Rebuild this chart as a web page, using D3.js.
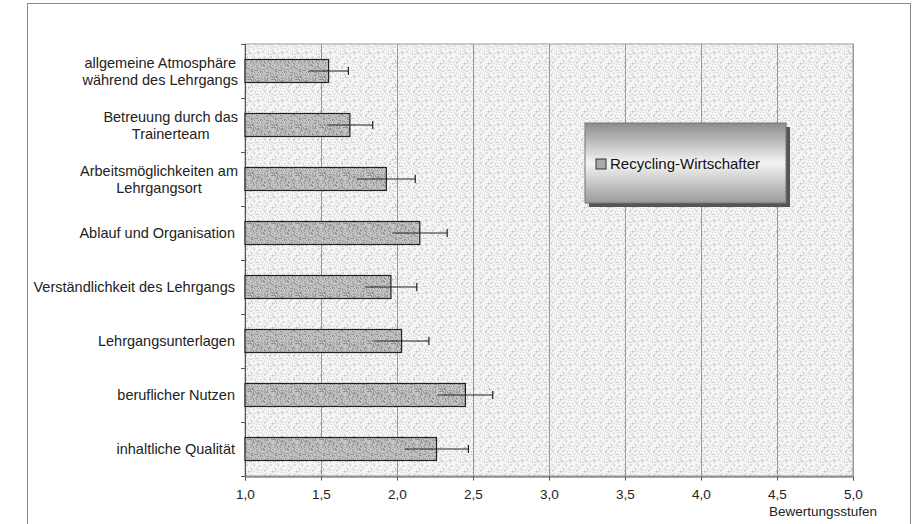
<!DOCTYPE html>
<html><head><meta charset="utf-8">
<script src="https://cdn.jsdelivr.net/npm/d3@7"></script>
<style>body{margin:0;background:#fff}svg{display:block;font-family:Arial,"Liberation Sans",sans-serif}</style>
</head><body><svg id="c" width="923" height="524"></svg>
<script>
const categories = [
  ["allgemeine Atmosphäre","während des Lehrgangs"],
  ["Betreuung durch das","Trainerteam"],
  ["Arbeitsmöglichkeiten am","Lehrgangsort"],
  ["Ablauf und Organisation"],
  ["Verständlichkeit des Lehrgangs"],
  ["Lehrgangsunterlagen"],
  ["beruflicher Nutzen"],
  ["inhaltliche Qualität"]
];
const values = [1.55, 1.69, 1.93, 2.15, 1.96, 2.03, 2.45, 2.26];
const errors = [0.13, 0.15, 0.19, 0.18, 0.17, 0.18, 0.18, 0.21];
const ticks = [1.0,1.5,2.0,2.5,3.0,3.5,4.0,4.5,5.0];
const seriesName = "Recycling-Wirtschafter";
const axisTitle = "Bewertungsstufen";

const svg = d3.select("#c");
const defs = svg.append("defs");
function noisePattern(id, base, dark, density, seed){
  const p = defs.append("pattern").attr("id",id).attr("width",24).attr("height",24).attr("patternUnits","userSpaceOnUse");
  p.append("rect").attr("width",24).attr("height",24).attr("fill",base);
  let s = seed;
  const rnd = () => { s = (s*9301+49297)%233280; return s/233280; };
  for(let y=0;y<24;y++) for(let x=0;x<24;x++) if(rnd()<density) p.append("rect").attr("x",x).attr("y",y).attr("width",1).attr("height",1).attr("fill",dark);
}
noisePattern("bgTex","#f5f5f5","#cfcfcf",0.18,7);
noisePattern("barTex","#c2c2c2","#939393",0.3,11);

const lg = defs.append("linearGradient").attr("id","legGrad").attr("x1",0).attr("y1",0).attr("x2",0).attr("y2",1);
lg.append("stop").attr("offset","0%").attr("stop-color","#8c8c8c");
lg.append("stop").attr("offset","50%").attr("stop-color","#f4f4f4");
lg.append("stop").attr("offset","100%").attr("stop-color","#9a9a9a");

svg.append("rect").attr("x",27.5).attr("y",3.5).attr("width",883).attr("height",530).attr("fill","none").attr("stroke","#888").attr("stroke-width",1);

const m = {left:245, right:853, top:44, bottom:476};
const x = d3.scaleLinear().domain([1,5]).range([m.left, m.right]);
const y = d3.scaleBand().domain(d3.range(categories.length)).range([m.top, m.bottom]).paddingInner(0.574).paddingOuter(0.287);

svg.append("rect").attr("x",m.left).attr("y",m.top).attr("width",m.right-m.left).attr("height",m.bottom-m.top).attr("fill","url(#bgTex)").attr("stroke","#999").attr("stroke-width",1);

svg.append("g").selectAll("line").data(ticks.slice(1)).join("line")
  .attr("x1",d=>x(d)+0.5).attr("x2",d=>x(d)+0.5).attr("y1",m.top).attr("y2",m.bottom)
  .attr("stroke","#999").attr("stroke-width",1);

const xAxis = d3.axisBottom(x).tickValues(ticks).tickFormat(d=>d3.format(".1f")(d).replace(".",",")).tickSize(4).tickPadding(9);
const gx = svg.append("g").attr("transform",`translate(0,${m.bottom+0.5})`).call(xAxis);
gx.select(".domain").attr("stroke","#555");
gx.selectAll(".tick line").attr("stroke","#555");
gx.selectAll("text").attr("font-size",13.5).attr("fill","#222").attr("font-family","Arial,'Liberation Sans',sans-serif");

svg.append("text").attr("x",823).attr("y",516).attr("text-anchor","middle").attr("font-size",13.5).attr("fill","#222").text(axisTitle);

const step = y.step();
svg.append("line").attr("x1",m.left+0.5).attr("x2",m.left+0.5).attr("y1",m.top).attr("y2",m.bottom).attr("stroke","#555");
svg.append("g").selectAll("line").data(d3.range(categories.length+1)).join("line")
  .attr("x1",m.left-4).attr("x2",m.left).attr("y1",i=>m.top+i*step+0.5).attr("y2",i=>m.top+i*step+0.5).attr("stroke","#555");

const lab = svg.append("g");
categories.forEach((lines,i)=>{
  const cy = y(i)+y.bandwidth()/2;
  const t = lab.append("text").attr("text-anchor","end").attr("font-size",14.5).attr("fill","#222");
  lines.forEach((ln,j)=>{
    t.append("tspan").attr("x",235).attr("y", cy + 5 + (j-(lines.length-1)/2)*17).text(ln);
  });
});
lab.selectAll("text").each(function(){
  const tsp = d3.select(this).selectAll("tspan");
  if(tsp.size()>1){
    const w = [];
    tsp.each(function(){w.push(this.getComputedTextLength());});
    const maxW = d3.max(w);
    tsp.each(function(_,j){ d3.select(this).attr("x", 238 - (maxW - w[j])/2); });
  }
});

svg.append("g").selectAll("rect").data(values).join("rect")
  .attr("x",x(1)).attr("y",(d,i)=>y(i)).attr("width",d=>x(d)-x(1)).attr("height",y.bandwidth())
  .attr("fill","url(#barTex)").attr("stroke","#222").attr("stroke-width",1.2);

const eb = svg.append("g").attr("stroke","#222").attr("stroke-width",1.2);
values.forEach((v,i)=>{
  const cy = y(i)+y.bandwidth()/2;
  eb.append("line").attr("x1",x(v-errors[i])).attr("x2",x(v+errors[i])).attr("y1",cy).attr("y2",cy);
  eb.append("line").attr("x1",x(v+errors[i])).attr("x2",x(v+errors[i])).attr("y1",cy-4).attr("y2",cy+4);
});

const L = {x:585, y:123, w:201, h:80};
svg.append("rect").attr("x",L.x+4).attr("y",L.y+4).attr("width",L.w).attr("height",L.h).attr("fill","#555");
svg.append("rect").attr("x",L.x).attr("y",L.y).attr("width",L.w).attr("height",L.h).attr("fill","url(#legGrad)").attr("stroke","#777");
svg.append("rect").attr("x",L.x+11).attr("y",L.y+36).attr("width",10).attr("height",10).attr("fill","#aaa").attr("stroke","#333");
svg.append("text").attr("x",L.x+25).attr("y",L.y+46).attr("font-size",15).attr("fill","#111").text(seriesName);
</script></body></html>
